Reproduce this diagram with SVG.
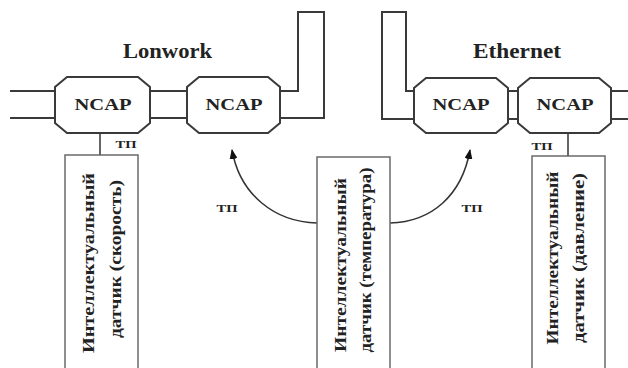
<svg xmlns="http://www.w3.org/2000/svg" width="628" height="368" viewBox="0 0 628 368">
<style>
.pipe{fill:none;stroke:#3a3a3a;stroke-width:2}
.ncap{fill:#fff;stroke:#3a3a3a;stroke-width:2}
.box{fill:#fff;stroke:#6a6a6a;stroke-width:1.5}
.conn{fill:none;stroke:#333;stroke-width:1.5}
.t{font-family:"Liberation Serif","DejaVu Serif",serif;font-weight:bold;fill:#222}
.net{font-size:20px}
.nc{font-size:17px;text-anchor:middle}
.tp{font-size:11px;text-anchor:middle}
.v{font-size:17px;text-anchor:middle}
</style>
<defs>
<marker id="ah" viewBox="0 0 10 8" refX="9" refY="4" markerWidth="10" markerHeight="8" markerUnits="userSpaceOnUse" orient="auto">
<path d="M0,0 L10,4 L0,8 Z" fill="#111"/>
</marker>
</defs>
<rect width="628" height="368" fill="#fff"/>
<g id="connectors">
<path class="pipe" d="M10,91 H55 M10,118 H55"/>
<path class="pipe" d="M150,91 H187 M150,118 H187"/>
<path class="pipe" d="M280,91 H298 V12 H324 V118 H280"/>
<path class="pipe" d="M414,91 H406 V12 H382 V119 H414"/>
<path class="pipe" d="M508,91 H518 M508,119 H518"/>
<path class="pipe" d="M611,91 H628 M611,119 H628"/>
<path class="conn" d="M100,133 V156"/>
<path class="conn" d="M568,133 V156"/>
<path class="conn" d="M317,223 C275,222 240,195 232,150" marker-end="url(#ah)"/>
<path class="conn" d="M390,223 C432,222 462,195 470,150" marker-end="url(#ah)"/>
</g>
<text class="t net" x="123" y="58" textLength="89" lengthAdjust="spacingAndGlyphs">Lonwork</text>
<text class="t net" x="473" y="58" textLength="88" lengthAdjust="spacingAndGlyphs">Ethernet</text>
<g id="ncap1">
<polygon class="ncap" points="67,77 138,77 150,87 150,123 138,133 67,133 55,123 55,87"/>
<text class="t nc" x="103" y="110" textLength="57" lengthAdjust="spacingAndGlyphs">NCAP</text>
</g>
<g id="ncap2">
<polygon class="ncap" points="199,77 268,77 280,87 280,123 268,133 199,133 187,123 187,87"/>
<text class="t nc" x="234" y="110" textLength="57" lengthAdjust="spacingAndGlyphs">NCAP</text>
</g>
<g id="ncap3">
<polygon class="ncap" points="426,78 496,78 508,88 508,123 496,133 426,133 414,123 414,88"/>
<text class="t nc" x="461" y="110" textLength="57" lengthAdjust="spacingAndGlyphs">NCAP</text>
</g>
<g id="ncap4">
<polygon class="ncap" points="530,78 599,78 611,88 611,123 599,133 530,133 518,123 518,88"/>
<text class="t nc" x="565" y="110" textLength="57" lengthAdjust="spacingAndGlyphs">NCAP</text>
</g>
<text class="t tp" x="126" y="148" textLength="21" lengthAdjust="spacingAndGlyphs">ТП</text>
<text class="t tp" x="542" y="150" textLength="21" lengthAdjust="spacingAndGlyphs">ТП</text>
<text class="t tp" x="227" y="212" textLength="21" lengthAdjust="spacingAndGlyphs">ТП</text>
<text class="t tp" x="472" y="212" textLength="21" lengthAdjust="spacingAndGlyphs">ТП</text>
<g id="sensor1">
<rect class="box" x="65" y="155" width="73" height="220"/>
<g transform="translate(88,263) rotate(-90)">
<text class="t v" x="0" y="6" textLength="180" lengthAdjust="spacingAndGlyphs">Интеллектуальный</text>
<text class="t v" x="4" y="33" textLength="158" lengthAdjust="spacingAndGlyphs">датчик (скорость)</text>
</g>
</g>
<g id="sensor2">
<rect class="box" x="317" y="157" width="73" height="220"/>
<g transform="translate(340,263) rotate(-90)">
<text class="t v" x="-2" y="6" textLength="174" lengthAdjust="spacingAndGlyphs">Интеллектуальный</text>
<text class="t v" x="3" y="31" textLength="185" lengthAdjust="spacingAndGlyphs">датчик (температура)</text>
</g>
</g>
<g id="sensor3">
<rect class="box" x="532" y="156" width="73" height="220"/>
<g transform="translate(552,258) rotate(-90)">
<text class="t v" x="0" y="6" textLength="173" lengthAdjust="spacingAndGlyphs">Интеллектуальный</text>
<text class="t v" x="0" y="32" textLength="170" lengthAdjust="spacingAndGlyphs">датчик (давление)</text>
</g>
</g>
</svg>
